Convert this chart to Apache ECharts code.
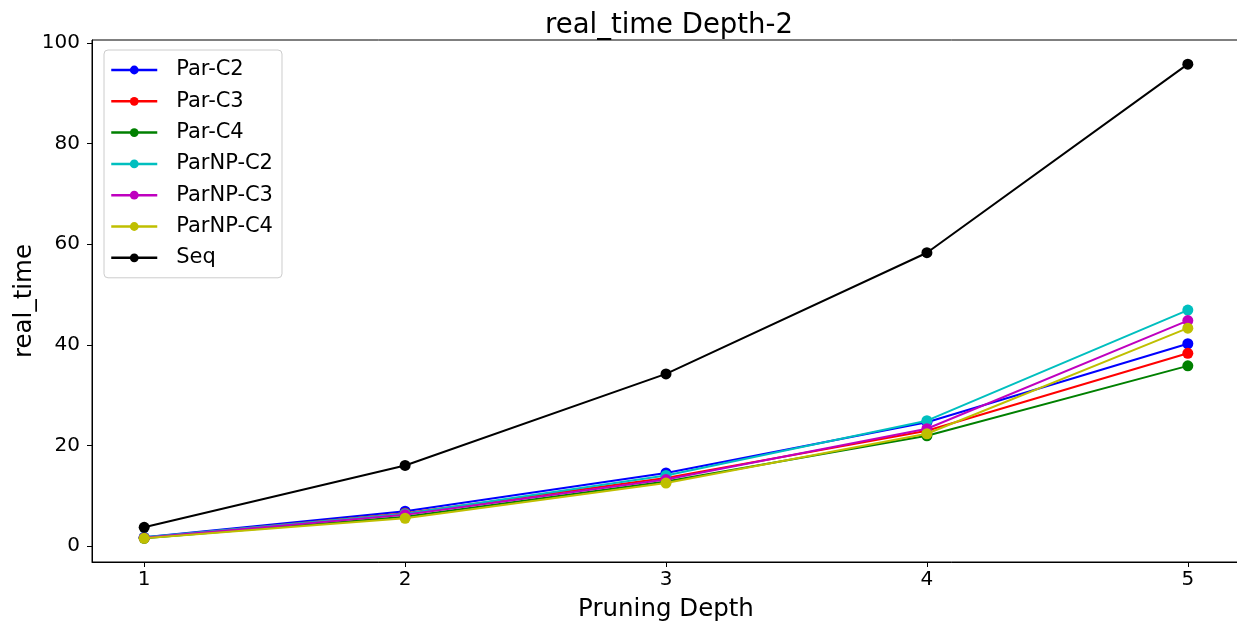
<!DOCTYPE html>
<html>
<head>
<meta charset="utf-8">
<script src="https://cdn.jsdelivr.net/npm/echarts@6/dist/echarts.min.js"></script>
<style>
  html, body { margin: 0; padding: 0; background: #fff; }
  #chart { width: 1237px; height: 626px; }
</style>
</head>
<body>
<div id="chart"></div>
<script>
// pruning depth values (x)
const depths = [1, 2, 3, 4, 5];
const xTicks = [1, 2, 3, 4, 5];
const yTicks = [0, 20, 40, 60, 80, 100];

// real_time per series
const parC2   = [1.7, 6.9, 14.5, 24.6, 40.2];
const parC3   = [1.6, 6.5, 13.5, 22.9, 38.3];
const parC4   = [1.5, 5.8, 12.8, 21.9, 35.8];
const parNPC2 = [1.7, 6.4, 14.0, 24.9, 46.9];
const parNPC3 = [1.6, 6.2, 13.2, 23.3, 44.8];
const parNPC4 = [1.5, 5.5, 12.5, 22.3, 43.3];
const seq     = [3.7, 16.0, 34.2, 58.3, 95.8];

const seriesNames = ['Par-C2', 'Par-C3', 'Par-C4', 'ParNP-C2', 'ParNP-C3', 'ParNP-C4', 'Seq'];
const seriesData = [parC2, parC3, parC4, parNPC2, parNPC3, parNPC4, seq];
const colors = ['#0000ff', '#ff0000', '#008000', '#00bfbf', '#bf00bf', '#bfbf00', '#000000'];

const font = 'DejaVu Sans';

let chart = echarts.init(document.getElementById('chart'));

let series = [];
for (let i = 0; i < seriesNames.length; i++) {
    series.push({
        name: seriesNames[i],
        type: 'line',
        data: depths.map((d, j) => [d, seriesData[i][j]]),
        symbol: 'circle',
        symbolSize: 11,
        color: colors[i],
        lineStyle: { width: 2, color: colors[i] },
        itemStyle: { color: colors[i] },
        animation: false,
        z: 2 + i
    });
}

chart.setOption({
    backgroundColor: '#fff',
    animation: false,
    title: {
        text: 'real_time Depth-2',
        left: 664,
        top: 7,
        textAlign: 'center',
        textStyle: { fontFamily: font, fontSize: 27.5, fontWeight: 'normal', color: '#000' }
    },
    legend: {
        orient: 'vertical',
        left: 104,
        top: 50,
        padding: [9, 9, 9, 6],
        itemWidth: 46,
        itemHeight: 11,
        itemGap: 9.3,
        backgroundColor: 'rgba(255,255,255,0.8)',
        borderColor: '#cccccc',
        borderWidth: 1,
        borderRadius: 4,
        lineStyle: { width: 2.5 },
        textStyle: { fontFamily: font, fontSize: 21, color: '#000', lineHeight: 22, padding: [0, 0, 0, 14] },
        data: seriesNames
    },
    grid: {
        left: 92,
        width: 1148,
        top: 40,
        height: 522,
        show: true,
        borderColor: '#000',
        borderWidth: 1,
        containLabel: false,
        outerBoundsMode: 'none'
    },
    xAxis: {
        type: 'value',
        min: 0.8,
        max: 5.2,
        name: 'Pruning Depth',
        nameLocation: 'middle',
        nameGap: 35,
        nameTextStyle: { fontFamily: font, fontSize: 24.5, color: '#000' },
        splitLine: { show: false },
        axisLine: { show: true, onZero: false, lineStyle: { color: '#000', width: 1 } },
        axisTick: { show: true, length: 5, customValues: xTicks, lineStyle: { color: '#000' } },
        axisLabel: { fontFamily: font, fontSize: 20, color: '#000', margin: 8, customValues: xTicks }
    },
    yAxis: {
        type: 'value',
        min: -3.2,
        max: 100.6,
        name: 'real_time',
        nameLocation: 'middle',
        nameGap: 55,
        nameMoveOverlap: false,
        nameTextStyle: { fontFamily: font, fontSize: 24.5, color: '#000' },
        splitLine: { show: false },
        axisLine: { show: true, onZero: false, lineStyle: { color: '#000', width: 1 } },
        axisTick: { show: true, length: 5, customValues: yTicks, lineStyle: { color: '#000' } },
        axisLabel: { fontFamily: font, fontSize: 20, color: '#000', margin: 12, customValues: yTicks }
    },
    series: series
});
</script>
</body>
</html>
